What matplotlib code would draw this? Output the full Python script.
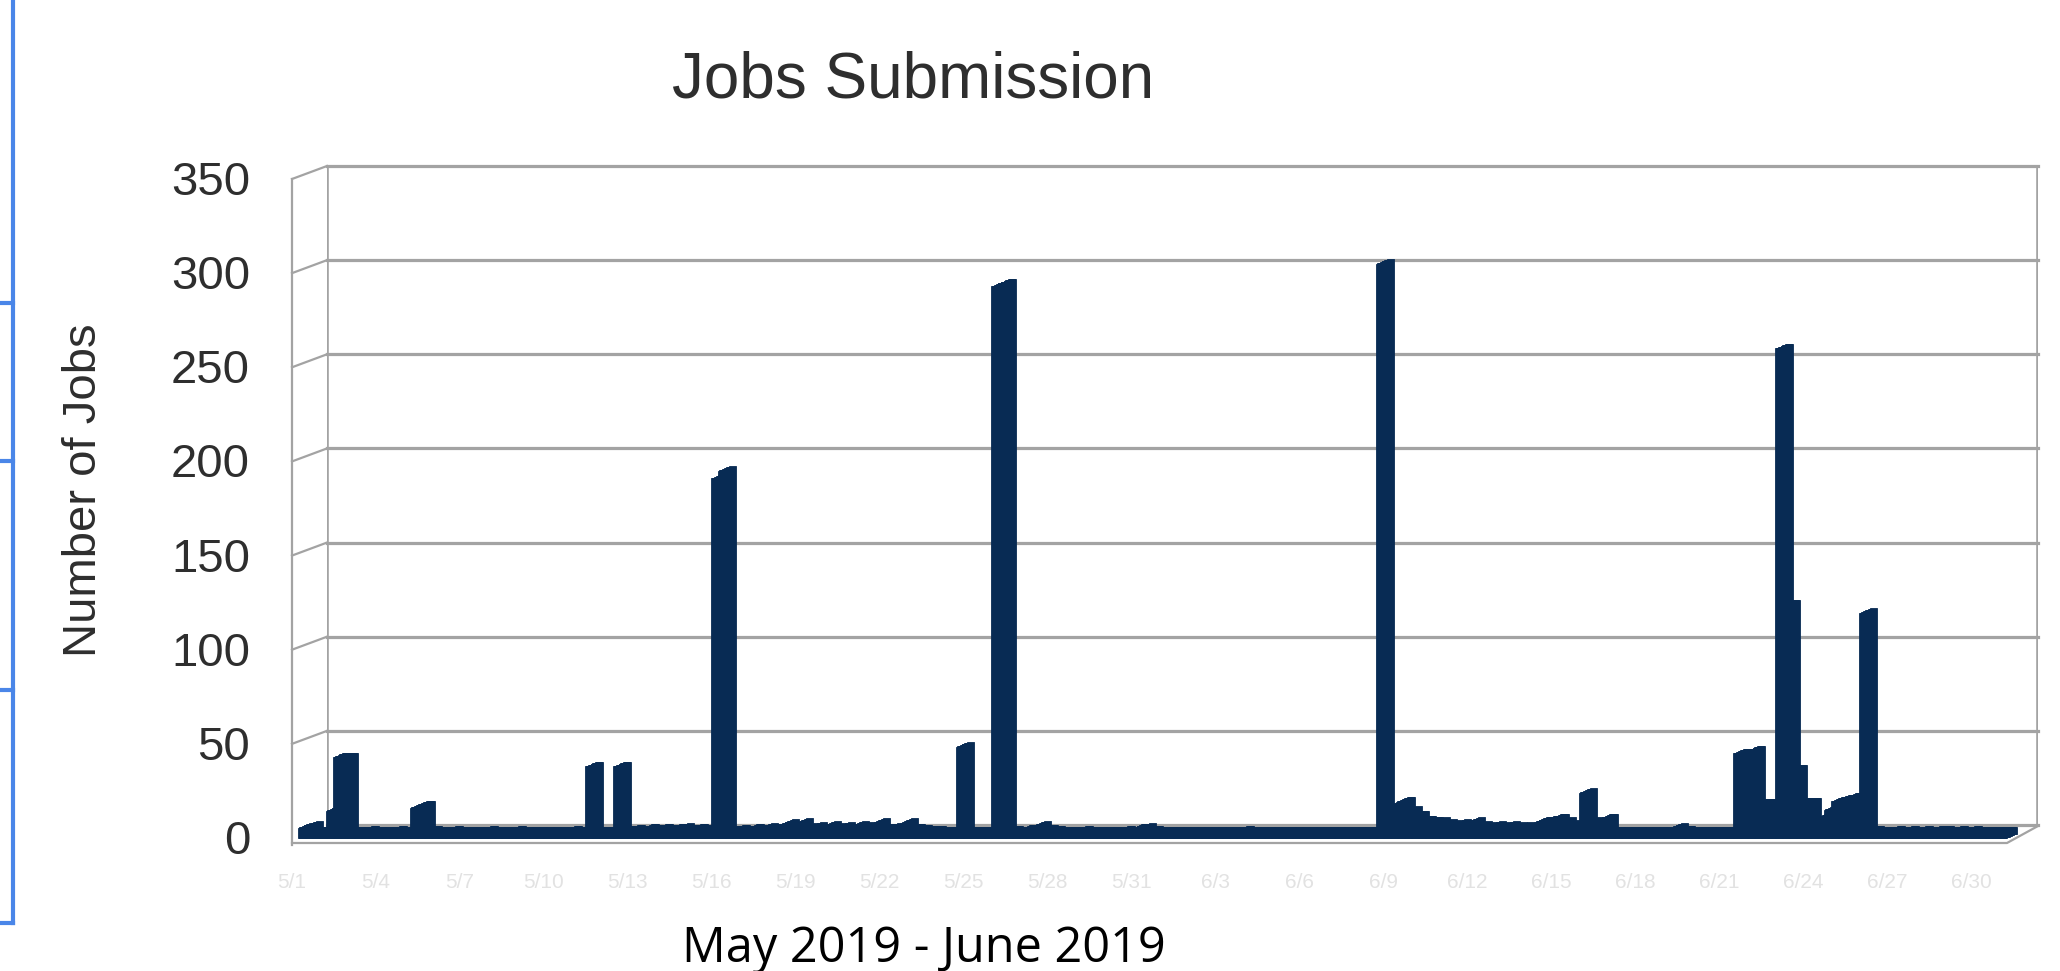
import matplotlib
matplotlib.use("Agg")
import matplotlib.pyplot as plt
import matplotlib.transforms as mtransforms
from matplotlib.lines import Line2D
import numpy as np
import pandas as pd

# ---------------- data ----------------
# six-hour slots, 1 May 2019 .. 30 June 2019
slots = pd.date_range("2019-05-01", periods=244, freq="6h")
categories = [d.strftime("%m/%d %H:%M") for d in slots]

jobs = [
    5.5, 6.5, 3.5, 3.5, 14.5, 43, 43, 3.5, 3.5, 4, 3.5, 3.5,
    3.5, 4, 3.5, 3.5, 16, 17.5, 4, 3.5, 3.5, 4, 3.5, 3.5,
    3.5, 3.5, 4, 3.5, 3.5, 3.5, 4, 3.5, 3.5, 3.5, 3.5, 3.5,
    3.5, 3.5, 4, 3.5, 3.5, 38, 3.5, 3.5, 3.5, 38, 4, 4.5,
    4, 5, 4.5, 5, 4.5, 5, 5.5, 4.5, 5, 4.5, 4, 191,
    195, 4, 4.5, 4, 5, 4.5, 5.5, 5, 6, 7.5, 5, 8,
    5.5, 6, 5, 6.5, 5.5, 6, 5, 6.5, 6, 5.5, 8, 5,
    5.5, 6, 8, 5, 4.5, 4, 4, 3.5, 3.5, 3.5, 48.5, 3.5,
    3.5, 3.5, 3.5, 293, 294.5, 4, 3.5, 4.5, 5, 6.5, 4.5, 4,
    3.5, 3.5, 3.5, 4, 3.5, 3.5, 3.5, 3.5, 3.5, 4, 3.5, 5,
    5.5, 4, 3.5, 3.5, 3.5, 3.5, 3.5, 3.5, 3.5, 3.5, 3.5, 3.5,
    3.5, 3.5, 4, 3.5, 3.5, 3.5, 3.5, 3.5, 3.5, 3.5, 3.5, 3.5,
    3.5, 3.5, 3.5, 3.5, 3.5, 3.5, 3.5, 3.5, 3.5, 4, 305, 16,
    17.5, 19.5, 14.5, 12, 9.5, 9, 8.5, 7.5, 7, 7.5, 7, 8.5,
    6.5, 6, 6.5, 6, 6.5, 6, 6, 5.5, 7.5, 9, 9.5, 10.5,
    8.5, 7, 7, 24, 8.5, 8.5, 10.5, 3.5, 3.5, 3.5, 3.5, 3.5,
    3.5, 3.5, 3.5, 4, 5.5, 4, 3.5, 3.5, 3.5, 3.5, 3.5, 3.5,
    3.5, 45, 45, 46.5, 18.5, 18.5, 18.5, 260, 124, 36.5, 19, 19,
    5, 11, 15, 19.5, 20.5, 21.5, 21.5, 119.5, 4, 3.5, 3.5, 4,
    3.5, 4, 3.5, 4, 3.5, 4, 4, 3.5, 4, 3.5, 4, 3.5, 3.5, 3.5, 3.5, 3.5,
]
y_ticks = [0, 50, 100, 150, 200, 250, 300, 350]
x_tick_every = 12
title = "Jobs Submission"
y_label = "Number of Jobs"
x_label = "May 2019 - June 2019"

# ---------------- style ----------------
W, H = 2060, 971
BAR = "#082b54"
GRID = "#a3a3a3"
TXT = "#2e2e2e"
BLUE = "#4a86e8"

fig = plt.figure(figsize=(W / 100, H / 100), dpi=100)
fig.patch.set_facecolor("white")


def frame(x0, y0, x1, y1):
    return [x0 / W, 1 - y1 / H, (x1 - x0) / W, (y1 - y0) / H]


# back wall
ax_wall = fig.add_axes(frame(327, 166, 2038, 825))
ax_wall.set_xlim(0, 1)
ax_wall.set_ylim(0, 350)
ax_wall.axis("off")
for v in y_ticks:
    ax_wall.axhline(v, color=GRID, lw=2.3, zorder=1, clip_on=False)
ax_wall.axvline(0, color=GRID, lw=2.6, zorder=1)
ax_wall.axvline(1, color=GRID, lw=2.6, zorder=1)

# side wall (perspective depth)
DX, DY = -35, -13  # pixels, display coords
for v in y_ticks[1:]:
    bx, by = ax_wall.transData.transform((0, v))
    fig.add_artist(Line2D([bx, bx + DX], [by, by + DY], color=GRID, lw=1.6,
                          transform=mtransforms.IdentityTransform(), zorder=1))
bx_top, by_top = ax_wall.transData.transform((0, 350))
fig.add_artist(Line2D([bx_top + DX, bx_top + DX], [by_top + DY, H - 845], color=GRID, lw=1.6,
                      transform=mtransforms.IdentityTransform(), zorder=1))
# floor front edge and right end
fig.add_artist(Line2D([292, 2007, 2038], [H - 843, H - 843, H - 826], color=GRID, lw=1.6,
                      transform=mtransforms.IdentityTransform(), zorder=1))

# y tick labels
for v in y_ticks:
    off = mtransforms.ScaledTranslation(-0.77, -0.29, fig.dpi_scale_trans)
    ax_wall.text(0, v, str(v), transform=ax_wall.transData + off, ha="right", va="baseline",
                 fontsize=34, family="Liberation Sans", color=TXT, clip_on=False)

# bars (extruded for 3-D look)
ax_b = fig.add_axes(frame(298, 179, 298 + 244 * 7, 838))
ax_b.patch.set_alpha(0)
x = np.arange(len(categories))
steps = 12
for k in range(steps + 1):
    off = mtransforms.ScaledTranslation(0.11 * k / steps, 0.045 * k / steps, fig.dpi_scale_trans)
    ax_b.bar(x, jobs, width=1.0, align="edge", color=BAR, edgecolor=BAR, lw=0.6,
             transform=ax_b.transData + off, clip_on=False, zorder=3)
ax_b.set_xlim(0, len(categories))
ax_b.set_ylim(0, 350)
ax_b.axis("off")

# faint category labels
for i in range(0, len(categories), x_tick_every):
    lab = f"{slots[i].month}/{slots[i].day}"
    off = mtransforms.ScaledTranslation(-0.1, -0.44, fig.dpi_scale_trans)
    ax_b.text(i + 0.5, 0, lab, transform=ax_b.transData + off, ha="center", va="center",
              fontsize=15, color="#e2e2e2", family="Liberation Sans", clip_on=False)

# titles
fig.text(913 / W, 1 - 97 / H, title, ha="center", va="baseline", fontsize=46,
         family="Liberation Sans", color=TXT)
fig.text(84 / W, 1 - 490 / H, y_label, ha="center", va="center", rotation=90, fontsize=34,
         family="Liberation Sans", color=TXT)
fig.text(924 / W, 1 - 962 / H, x_label, ha="center", va="baseline", fontsize=35,
         family="Open Sans", color="black")

# slide decoration (blue border at left)
fig.add_artist(Line2D([13 / W, 13 / W], [1, 1 - 923 / H], color=BLUE, lw=3,
                      transform=fig.transFigure))
for yy in [303, 461, 690, 923]:
    fig.add_artist(Line2D([0, 13 / W], [1 - yy / H, 1 - yy / H], color=BLUE, lw=3,
                          transform=fig.transFigure))

fig.savefig("out.png", dpi=100, facecolor="white")
